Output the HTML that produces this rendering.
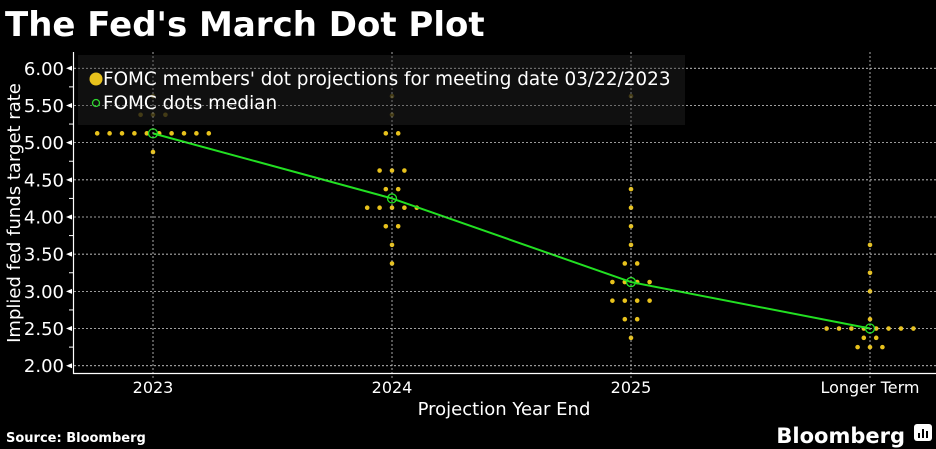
<!DOCTYPE html>
<html><head><meta charset="utf-8"><style>
html,body{margin:0;padding:0;background:#000;width:936px;height:449px;overflow:hidden}
svg{display:block;font-family:"DejaVu Sans","Liberation Sans",sans-serif}
</style></head><body>
<svg id="chart" width="936" height="449" viewBox="0 0 936 449">
<text x="5" y="36" fill="#fff" font-size="34" font-weight="bold">The Fed's March Dot Plot</text>
<g id="grid"></g>
<g id="dots"></g>
<g id="medianline"></g>
<rect x="78" y="55" width="607" height="70" fill="rgba(20,20,20,0.78)"/>
<g id="grid2"></g>
<g id="axes"></g>
<g>
<circle cx="96" cy="79" r="6.5" fill="#e8c21c"/>
<text x="103" y="85" fill="#fff" font-size="18.4">FOMC members' dot projections for meeting date 03/22/2023</text>
<circle cx="96" cy="103" r="3.5" fill="none" stroke="#2ed82e" stroke-width="1.3"/>
<text x="103" y="109" fill="#fff" font-size="18.4">FOMC dots median</text>
</g>
<text transform="translate(20,213) rotate(-90)" text-anchor="middle" fill="#fff" font-size="18">Implied fed funds target rate</text>
<text x="504" y="415" text-anchor="middle" fill="#fff" font-size="18">Projection Year End</text>
<text x="6" y="442" fill="#fff" font-size="13" font-weight="bold">Source: Bloomberg</text>
<text x="905" y="443" text-anchor="end" fill="#fff" font-size="21" font-weight="bold">Bloomberg</text>
<g><rect x="914" y="424" width="18" height="17" rx="3" fill="#fff"/><rect x="918" y="433" width="2" height="5" fill="#000"/><rect x="922" y="429" width="2" height="9" fill="#000"/><rect x="926" y="431" width="2" height="7" fill="#000"/></g>
</svg>
<script>
const categories = ["2023","2024","2025","Longer Term"];
// dot rows per category: [rate, count]
const dotRates = [
 [5.625,5.375,5.125,4.875],
 [5.625,5.375,5.125,4.625,4.375,4.125,3.875,3.625,3.375],
 [5.625,4.375,4.125,3.875,3.625,3.375,3.125,2.875,2.625,2.375],
 [3.625,3.25,3.0,2.625,2.5,2.375,2.25]
];
const dotCounts = [
 [1,3,10,1],
 [1,1,2,3,2,5,2,1,1],
 [1,1,1,1,1,2,4,4,2,1],
 [1,1,1,1,8,2,3]
];
const medians = [5.125,4.25,3.125,2.5];
const yTicks = [2.0,2.5,3.0,3.5,4.0,4.5,5.0,5.5,6.0];
const yTickLabels = ["2.00","2.50","3.00","3.50","4.00","4.50","5.00","5.50","6.00"];

const NS="http://www.w3.org/2000/svg";
const xPos=[153,392,632,870];
function x(i){return xPos[0]+(xPos[3]-xPos[0])*i/(categories.length-1);}
function y(v){return 68.3+(6-v)*74.35;}
function mk(tag,attrs,parent){const e=document.createElementNS(NS,tag);for(const k in attrs)e.setAttribute(k,attrs[k]);parent.appendChild(e);return e;}
const grid=document.getElementById('grid'),grid2=document.getElementById('grid2'),axes=document.getElementById('axes'),dots=document.getElementById('dots'),ml=document.getElementById('medianline');
[grid,grid2].forEach(g=>{
 yTicks.forEach(t=>{const l=mk('line',{x1:74,x2:936,y1:y(t),y2:y(t),stroke:'#bbb','stroke-width':0.8,'stroke-dasharray':'2,2'},g);
 
 });
 categories.forEach((c,i)=>{const l=mk('line',{x1:x(i),x2:x(i),y1:52,y2:378,stroke:'#bbb','stroke-width':0.8,'stroke-dasharray':'2,2'},g);
 
 });
});
grid2.setAttribute('opacity','0.6');
let a=mk('line',{x1:73.5,x2:73.5,y1:52,y2:374,stroke:'#fff','stroke-width':1.2},axes);


a=mk('line',{x1:73,x2:936,y1:373.5,y2:373.5,stroke:'#fff','stroke-width':1.2},axes);


yTicks.forEach((t,i)=>{
 const p=mk('polygon',{points:`66,${y(t)} 72,${y(t)-2.5} 72,${y(t)+2.5}`,fill:'#fff'},axes);
 
 
 if(i<yTicks.length-1){const m=mk('line',{x1:69,x2:73,y1:y(t+0.25),y2:y(t+0.25),stroke:'#fff','stroke-width':1},axes);
 
 }
 const tx=mk('text',{x:64,y:y(t)+6.5,'text-anchor':'end',fill:'#fff','font-size':18},axes);
 tx.textContent=yTickLabels[i];
 
 
});
categories.forEach((c,i)=>{
 const tx=mk('text',{x:x(i),y:393,'text-anchor':'middle',fill:'#fff','font-size':16},axes);
 tx.textContent=c;
 
 
});
dotRates.forEach((rates,i)=>{
 rates.forEach((r,j)=>{
  const n=dotCounts[i][j];
  for(let k=0;k<n;k++){
   const cx=x(i)+(k-(n-1)/2)*12.4;
   const d=mk('circle',{cx:cx,cy:y(r),r:2.3,fill:'#e8c21c'},dots);
   
   
  }
 });
});
const pl=mk('polyline',{points:medians.map((m,i)=>x(i)+','+y(m)).join(' '),fill:'none',stroke:'#22e022','stroke-width':2},ml);


medians.forEach((m,i)=>{
 const c=mk('circle',{cx:x(i),cy:y(m),r:4.5,fill:'none',stroke:'#22e022','stroke-width':1.3},ml);
 
 
});
</script>
</body></html>
